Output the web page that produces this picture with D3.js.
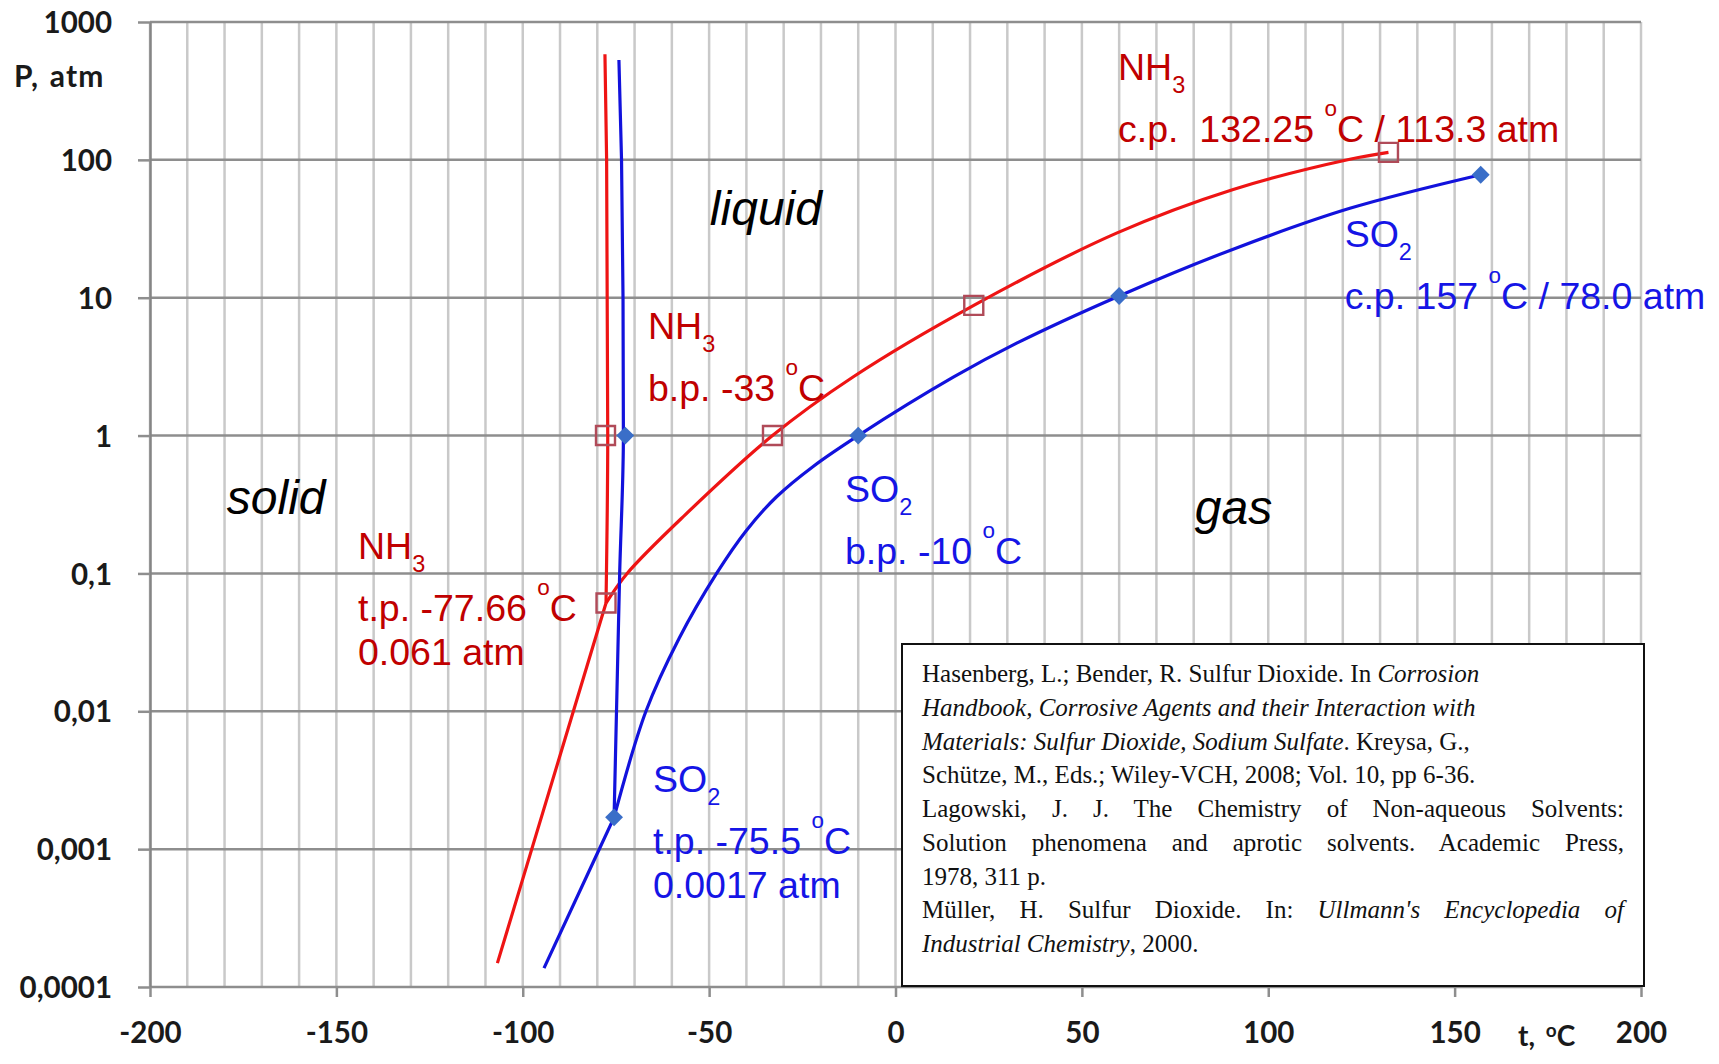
<!DOCTYPE html>
<html>
<head>
<meta charset="utf-8">
<script src="https://cdn.jsdelivr.net/npm/d3@7"></script>
<style>
  html, body { margin: 0; padding: 0; background: #fff; }
  svg { display: block; }
</style>
</head>
<body>
<svg id="chart" width="1719" height="1064"></svg>
<script>
// ---- Phase diagram data: t in °C, P in atm ----
const nh3Melting      = [[-77.66, 0.061], [-77.2, 1], [-77.5, 100], [-77.95, 583]];
const nh3Sublimation  = [[-106.8, 1.49e-4], [-97.3, 1.06e-3], [-77.66, 0.061]];
const nh3Vaporization = [[-77.66, 0.061], [-72.0, 0.1], [-56.5, 0.265], [-33, 1], [-11.5, 2.65], [21, 8.8],
                         [59.3, 29.4], [90.6, 61], [121.9, 101], [132.25, 113.3]];
const nh3Markers      = [[-77.66, 0.061], [-77.8, 1], [-33, 1], [21, 8.8], [132.25, 113.3]];

const so2Melting      = [[-75.5, 0.0017], [-74.0, 0.1], [-73.0, 1], [-73.1, 10], [-73.5, 100], [-74.2, 530]];
const so2Sublimation  = [[-94.3, 1.37e-4], [-79.7, 0.97e-3], [-75.5, 0.0017]];
const so2Vaporization = [[-75.5, 0.0017], [-66.95, 0.01], [-58.0, 0.034], [-48.0, 0.1], [-40.0, 0.205],
                         [-31.9, 0.36], [-22.0, 0.60], [-10, 1], [15.5, 2.65], [32.5, 4.68], [60, 10.3],
                         [90.6, 22.5], [121.9, 44.5], [157, 78]];
const so2Markers      = [[-75.5, 0.0017], [-72.5, 1], [-10, 1], [60, 10.3], [157, 78]];

// ---- Axis ticks ----
const tTicks      = [-200, -150, -100, -50, 0, 50, 100, 150, 200];
const tTickLabels = ["-200", "-150", "-100", "-50", "0", "50", "100", "150", "200"];
const pTicks      = [1e-4, 1e-3, 1e-2, 1e-1, 1, 10, 100, 1000];
const pTickLabels = ["0,0001", "0,001", "0,01", "0,1", "1", "10", "100", "1000"];

// ---- Text on the diagram (anchor in t / P) ----
const regionLabels = [
  { text: "liquid", t: -49.8, p: 33.9 },
  { text: "solid",  t: -179.4, p: 0.27 },
  { text: "gas",    t: 80.3, p: 0.229 }
];
const pointLabels = [
  { sub: "NH", idx: "3", t: -144.2, p: 0.127, color: "#c00000",
    rows: [["t.p. -77.66 ", "C"], ["0.061 atm"]] },
  { sub: "NH", idx: "3", t: -66.4, p: 5.0, color: "#c00000",
    rows: [["b.p. -33 ", "C"]] },
  { sub: "NH", idx: "3", t: 59.7, p: 379, color: "#c00000",
    rows: [["c.p.  132.25 ", "C / 113.3 atm"]] },
  { sub: "SO", idx: "2", t: -13.55, p: 0.331, color: "#1515e6",
    rows: [["b.p. -10 ", "C"]] },
  { sub: "SO", idx: "2", t: -65.06, p: 0.00261, color: "#1515e6",
    rows: [["t.p. -75.5 ", "C"], ["0.0017 atm"]] },
  { sub: "SO", idx: "2", t: 120.5, p: 23.4, color: "#1515e6",
    rows: [["c.p. 157 ", "C / 78.0 atm"]] }
];

// ---- References box ----
const refLines = [
  [["Hasenberg, L.; Bender, R. Sulfur Dioxide. In ", false], ["Corrosion", true]],
  [["Handbook, Corrosive Agents and their Interaction with", true]],
  [["Materials: Sulfur Dioxide, Sodium Sulfate", true], [". Kreysa, G.,", false]],
  [["Schütze, M., Eds.; Wiley-VCH, 2008; Vol. 10, pp 6-36.", false]],
  [["Lagowski, J. J. The Chemistry of Non-aqueous Solvents:", false]],
  [["Solution phenomena and aprotic solvents. Academic Press,", false]],
  [["1978, 311 p.", false]],
  [["Müller, H. Sulfur Dioxide. In: ", false], ["Ullmann's Encyclopedia of", true]],
  [["Industrial Chemistry", true], [", 2000.", false]]
];
const refJustified = [false, false, false, false, true, true, false, true, false];

// ---- Layout ----
const svg = d3.select("#chart");
const X0 = 150, X1 = 1641, Y0 = 987, Y1 = 22;
const x = d3.scaleLinear().domain([-200, 200]).range([X0, X1]);
const y = d3.scaleLog().domain([1e-4, 1e3]).range([Y0, Y1]);

const GRID_LIGHT = "#c9c9c9", GRID_DARK = "#8e8e8e";
const RED_LINE = "#ee1414", BLUE_LINE = "#1212dc";
const axisFont = "Lato, 'Open Sans', sans-serif";
const sansFont = "'Liberation Sans', Arial, sans-serif";

// vertical grid every 10 °C
svg.append("g").selectAll("line").data(x.ticks(40)).join("line")
  .attr("x1", d => x(d)).attr("x2", d => x(d))
  .attr("y1", Y1).attr("y2", Y0)
  .attr("stroke", GRID_LIGHT).attr("stroke-width", 2.5);

// horizontal grid at each decade
svg.append("g").selectAll("line").data(pTicks).join("line")
  .attr("x1", X0).attr("x2", X1)
  .attr("y1", d => y(d)).attr("y2", d => y(d))
  .attr("stroke", GRID_DARK).attr("stroke-width", 2.5);

// y axis
const yAxis = svg.append("g").attr("transform", `translate(${X0},0)`)
  .call(d3.axisLeft(y).tickValues(pTicks).tickFormat((d, i) => pTickLabels[i])
    .tickSizeInner(12).tickSizeOuter(0).tickPadding(26));
yAxis.select(".domain").attr("stroke", "#858585").attr("stroke-width", 2.5);
yAxis.selectAll(".tick line").attr("stroke", GRID_DARK).attr("stroke-width", 2.5);
yAxis.selectAll(".tick text")
  .attr("font-family", axisFont).attr("font-weight", "bold")
  .attr("font-size", 29.5).attr("fill", "#1a1a1a").attr("dy", "0.36em");

// x axis
const xAxis = svg.append("g").attr("transform", `translate(0,${Y0})`)
  .call(d3.axisBottom(x).tickValues(tTicks).tickFormat((d, i) => tTickLabels[i])
    .tickSizeInner(10).tickSizeOuter(0));
xAxis.select(".domain").remove();
xAxis.selectAll(".tick line").attr("stroke", GRID_DARK).attr("stroke-width", 2.5);
xAxis.selectAll(".tick text")
  .attr("font-family", axisFont).attr("font-weight", "bold")
  .attr("font-size", 29.5).attr("fill", "#1a1a1a").attr("y", 56).attr("dy", 0);

// axis titles
svg.append("text").attr("x", 14).attr("y", 87)
  .attr("font-family", axisFont).attr("font-weight", "bold").attr("font-size", 30)
  .attr("letter-spacing", 1.2).attr("word-spacing", 2)
  .attr("fill", "#1a1a1a").text("P, atm");
const tTitle = svg.append("text").attr("x", 1518).attr("y", 1046)
  .attr("font-family", axisFont).attr("font-weight", "bold").attr("font-size", 28)
  .attr("fill", "#1a1a1a").attr("word-spacing", 4);
tTitle.append("tspan").text("t, ");
tTitle.append("tspan").attr("font-size", 19).attr("dy", -9).text("o");
tTitle.append("tspan").attr("dy", 9).text("C");

// curves: straight sublimation lines, smooth vapour-pressure and melting curves
const straight = d3.line().x(d => x(d[0])).y(d => y(d[1]));
const smoothT  = d3.line().x(d => x(d[0])).y(d => y(d[1])).curve(d3.curveCatmullRom.alpha(0.5));
const smoothP  = d3.line().x(d => x(d[0])).y(d => y(d[1])).curve(d3.curveMonotoneY);
const curves = [
  [nh3Sublimation, straight, RED_LINE], [nh3Vaporization, smoothT, RED_LINE], [nh3Melting, smoothP, RED_LINE],
  [so2Sublimation, straight, BLUE_LINE], [so2Vaporization, smoothT, BLUE_LINE], [so2Melting, smoothP, BLUE_LINE]
];
svg.append("g").selectAll("path").data(curves).join("path")
  .attr("d", d => d[1](d[0]))
  .attr("fill", "none").attr("stroke", d => d[2]).attr("stroke-width", 3.2)
  .attr("stroke-linejoin", "round");

// markers: open squares for NH3, filled diamonds for SO2
svg.append("g").selectAll("path").data(nh3Markers).join("path")
  .attr("transform", d => `translate(${x(d[0])},${y(d[1])})`)
  .attr("d", d3.symbol(d3.symbolSquare, 361))
  .attr("fill", "none").attr("stroke", "#b04a58").attr("stroke-width", 2.4);
svg.append("g").selectAll("path").data(so2Markers).join("path")
  .attr("transform", d => `translate(${x(d[0])},${y(d[1])}) rotate(45)`)
  .attr("d", d3.symbol(d3.symbolSquare, 160))
  .attr("fill", "#3a6ec8");

// region names
svg.append("g").selectAll("text").data(regionLabels).join("text")
  .attr("x", d => x(d.t)).attr("y", d => y(d.p))
  .attr("font-family", sansFont).attr("font-style", "italic").attr("font-size", 48)
  .attr("fill", "#000").text(d => d.text);

// point annotations: formula with subscript, then rows with a raised degree sign
pointLabels.forEach(lb => {
  const g = svg.append("g")
    .attr("transform", `translate(${x(lb.t)},${y(lb.p)})`)
    .attr("font-family", sansFont).attr("font-size", 37.5).attr("fill", lb.color);
  const f = g.append("text").attr("x", 0).attr("y", 0);
  f.append("tspan").text(lb.sub);
  f.append("tspan").attr("font-size", 23.5).attr("dy", 13).text(lb.idx);
  let base = 0;
  lb.rows.forEach((row, i) => {
    base += (i === 0 ? 62 : 44);
    const t = g.append("text").attr("x", 0).attr("y", base).style("white-space", "pre");
    t.append("tspan").text(row[0]);
    if (row.length > 1) {
      t.append("tspan").attr("font-size", 22.5).attr("dy", -26).text("o");
      t.append("tspan").attr("dy", 26).text(row[1]);
    }
  });
});

// references box
const box = { x0: 902, y0: 644, x1: 1644, y1: 986 };
svg.append("rect").attr("x", box.x0).attr("y", box.y0)
  .attr("width", box.x1 - box.x0).attr("height", box.y1 - box.y0)
  .attr("fill", "#fff").attr("stroke", "#111").attr("stroke-width", 2);
const refG = svg.append("g").attr("font-family", "'Liberation Serif', 'Times New Roman', serif")
  .attr("font-size", 25).attr("fill", "#111");
const textLeft = 922, textRight = 1624;
refLines.forEach((segs, i) => {
  const t = refG.append("text").attr("x", textLeft).attr("y", 682 + i * 33.75)
    .style("white-space", "pre");
  segs.forEach(s => t.append("tspan").attr("font-style", s[1] ? "italic" : "normal").text(s[0]));
  if (refJustified[i]) {
    const full = segs.map(s => s[0]).join("");
    const spaces = (full.match(/ /g) || []).length;
    const w = t.node().getComputedTextLength();
    if (spaces > 0) t.attr("word-spacing", (textRight - textLeft - w) / spaces);
  }
});
</script>
</body>
</html>
